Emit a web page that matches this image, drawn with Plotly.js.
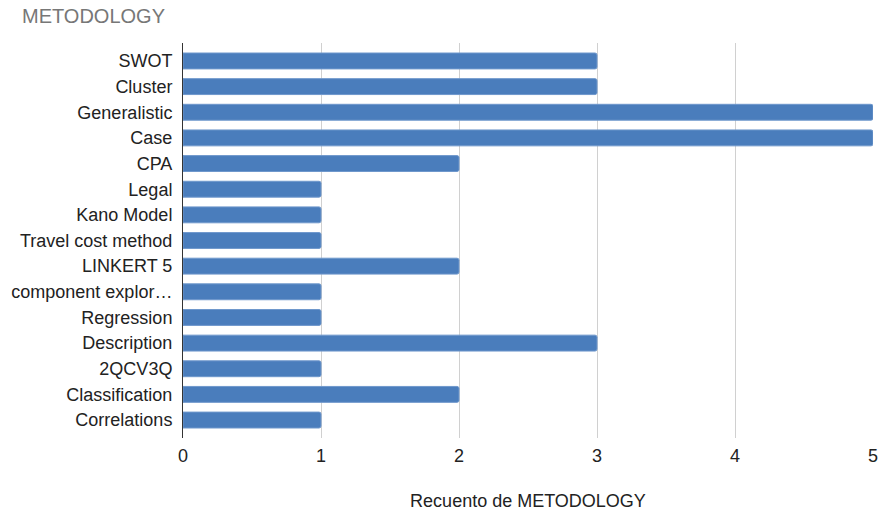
<!DOCTYPE html>
<html>
<head>
<meta charset="utf-8">
<script src="https://cdn.plot.ly/plotly-3.0.1.min.js"></script>
<style>
  html, body { margin: 0; padding: 0; background: #fff; }
  #chart { width: 884px; height: 515px; }
</style>
</head>
<body>
<div id="chart"></div>
<script>
// Methods, listed top to bottom
const methods = [
  'SWOT', 'Cluster', 'Generalistic', 'Case', 'CPA', 'Legal', 'Kano Model',
  'Travel cost method', 'LINKERT 5', 'component explor\u2026', 'Regression',
  'Description', '2QCV3Q', 'Classification', 'Correlations'
];
// Count of each method
const counts = [3, 3, 5, 5, 2, 1, 1, 1, 2, 1, 1, 3, 1, 2, 1];
const xTicks = [0, 1, 2, 3, 4, 5];

const trace = {
  type: 'bar',
  orientation: 'h',
  y: methods,
  x: counts,
  marker: {
    color: '#4a7dbc',
    line: { color: '#6f98cc', width: 1 },
    cornerradius: 2
  },
  hoverinfo: 'x+y'
};

const layout = {
  width: 884,
  height: 515,
  margin: { l: 183, r: 11, t: 43, b: 77 },
  paper_bgcolor: '#fff',
  plot_bgcolor: '#fff',
  font: { family: 'Liberation Sans, Arial, sans-serif', color: '#222', size: 18 },
  title: {
    text: 'METODOLOGY',
    x: 22 / 884, xref: 'container', xanchor: 'left',
    y: 1 - 16 / 515, yref: 'container', yanchor: 'middle',
    pad: { l: 0, t: 0, b: 0, r: 0 },
    font: { size: 20, color: '#777777' }
  },
  bargap: 0.38,
  showlegend: false,
  xaxis: {
    range: [0, 5],
    tickvals: xTicks,
    ticktext: xTicks.map(String),
    showgrid: true,
    gridcolor: '#d0d0d0',
    gridwidth: 1,
    zeroline: false,
    showline: false,
    ticks: '',
    ticklabelstandoff: 5,
    tickfont: { size: 18, color: '#222' },
    title: {
      text: 'Recuento de METODOLOGY',
      font: { size: 18, color: '#222' },
      standoff: 29
    },
    fixedrange: true
  },
  yaxis: {
    type: 'category',
    // a little padding above the first and below the last bar
    range: [methods.length - 0.3, -0.7],
    showline: true,
    linecolor: '#333',
    linewidth: 1,
    showgrid: false,
    ticks: '',
    ticklabelstandoff: 6,
    tickfont: { size: 18, color: '#222' },
    fixedrange: true
  }
};

Plotly.newPlot('chart', [trace], layout, { displayModeBar: false, staticPlot: true });
</script>
</body>
</html>
